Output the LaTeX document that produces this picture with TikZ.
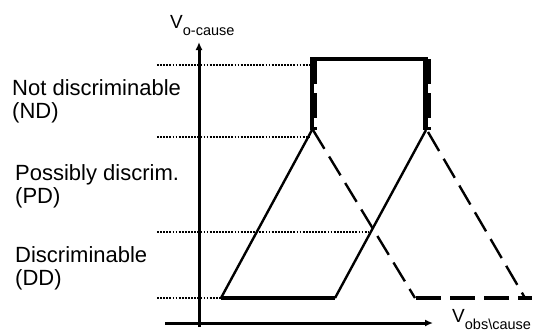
\documentclass[tikz,border=0pt]{standalone}
\usepackage{fontspec}
\setmainfont{Liberation Sans}
\usetikzlibrary{arrows.meta,calc}
\tikzset{
  axisline/.style={line width=3pt,-{Latex[length=8pt,width=7pt]}},
  guide/.style={line width=1.5pt,dash pattern=on 1.8pt off 1.3pt},
  thinsolid/.style={line width=2.4pt},
  thindash/.style={line width=2.4pt,dash pattern=on 22pt off 9pt},
  thicksolid/.style={line width=4.2pt},
  thickdash/.style={line width=4.2pt,dash pattern=on 25pt off 9pt},
  lbl/.style={anchor=base west,inner sep=0pt,font=\fontsize{22}{25}\selectfont},
}
\begin{document}
\begin{tikzpicture}[x=1pt,y=-1pt]
\useasboundingbox (0,0) rectangle (534,332);
% coordinates
\coordinate (TL) at (312,59);
\coordinate (TR) at (426,59);
\coordinate (L) at (312,130);
\coordinate (R) at (426,130);
\coordinate (SBL) at (221,298);
\coordinate (SBR) at (335,298);
\coordinate (DBL) at (415,298);
\coordinate (DBR) at (525,298);
\coordinate (DEnd) at (532,298);
% axes
\coordinate (yaxS) at (199,327);
\coordinate (yaxE) at (199,42);
\coordinate (xaxS) at (165,323);
\coordinate (xaxE) at (433,323);
\draw[axisline] (yaxS) -- (yaxE);
\draw[axisline] (xaxS) -- (xaxE);
% guide lines
\coordinate (g1a) at (157,65); \coordinate (g1b) at (310,65);
\coordinate (g2a) at (157,137); \coordinate (g2b) at (310,137);
\coordinate (g3a) at (157,232); \coordinate (g3b) at (369,232);
\coordinate (g4a) at (157,298); \coordinate (g4b) at (221,298);
\draw[guide] (g1a) -- (g1b);
\draw[guide] (g2a) -- (g2b);
\draw[guide] (g3a) -- (g3b);
\draw[guide] (g4a) -- (g4b);
% top thick
\draw[line width=4.6pt] (310,59) -- (428,59);
\draw[thicksolid] (312,57) -- (312,130);
\draw[thickdash] (314.5,59) -- (314.5,130);
\draw[thicksolid] (425.5,57) -- (425.5,130);
\draw[thickdash] (429,59) -- (429,130);
% solid shape
\draw[thinsolid] (L) -- (SBL);
\draw[thinsolid] (SBR) -- (R);
\draw[thicksolid] (SBL) -- (SBR);
% dashed shape
\draw[thindash] ($(L)+(1,0)$) -- (DBL);
\draw[thindash] (428,132) -- (DBR);
\draw[thickdash] (416,298) -- (DEnd);
% labels
\node[lbl] (nd1) at (12,95) {Not discriminable};
\node[lbl] (nd2) at (12,118) {(ND)};
\node[lbl] (pd1) at (15,180) {Possibly discrim.};
\node[lbl] (pd2) at (15,203) {(PD)};
\node[lbl] (dd1) at (15,262) {Discriminable};
\node[lbl] (dd2) at (15,285) {(DD)};
\node[anchor=base west,inner sep=0pt] (vy) at (170,28) {\fontsize{19}{21}\selectfont V\lower7pt\hbox{\fontsize{14.5}{16}\selectfont o-cause}};
\node[anchor=base west,inner sep=0pt] (vx) at (452,322) {\fontsize{19}{21}\selectfont V\lower7pt\hbox{\fontsize{14.5}{16}\selectfont obs\textbackslash cause}};
\end{tikzpicture}
\end{document}
